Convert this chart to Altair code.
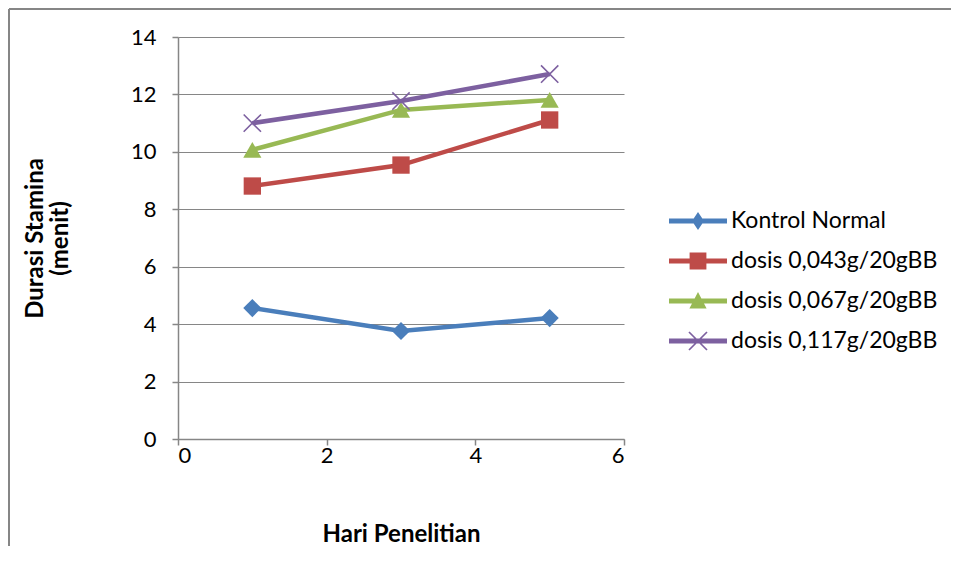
import altair as alt
import pandas as pd

# ---- data ----
series_names = ["Kontrol Normal", "dosis 0,043g/20gBB", "dosis 0,067g/20gBB", "dosis 0,117g/20gBB"]
hari = [1, 3, 5]
kontrol_normal = [4.56, 3.76, 4.21]
dosis_043 = [8.81, 9.54, 11.11]
dosis_067 = [10.07, 11.46, 11.81]
dosis_117 = [11.00, 11.77, 12.71]
x_ticks = [0, 2, 4, 6]
y_ticks = [0, 2, 4, 6, 8, 10, 12, 14]

colors = ["#4A7EBB", "#BE4B48", "#98B954", "#7D60A0"]

values = [kontrol_normal, dosis_043, dosis_067, dosis_117]
rows = []
for name, vals in zip(series_names, values):
    for h, v in zip(hari, vals):
        rows.append({"series": name, "hari": h, "durasi": v})
df = pd.DataFrame(rows)

FONT = "Lato"
GRAY = "#868686"
W, H = 446, 402

x_enc = alt.X("hari:Q", scale=alt.Scale(domain=[0, 6], nice=False, zero=False),
              axis=alt.Axis(values=x_ticks, title="Hari Penelitian", grid=False,
                            titleY=95, titleBaseline="middle"))
y_enc = alt.Y("durasi:Q", scale=alt.Scale(domain=[0, 14], nice=False),
              axis=alt.Axis(values=y_ticks, title=["Durasi Stamina", "(menit)"], grid=True,
                            titleX=-143, titleY=H / 2, titleAngle=-90,
                            titleAlign="center", titleBaseline="middle",
                            titleLineHeight=25))

# marker shapes for the plot
marker_shapes = ["diamond", "square", "triangle-up", "M-1,-1L1,1M-1,1L1,-1"]
marker_sizes = [330, 300, 330, 300]

# legend symbols: line segment + marker
line_part = "M-1.45,-0.12L1.45,-0.12L1.45,0.12L-1.45,0.12Z"
legend_shapes = [
    line_part + "M0,-0.45L0.3,0L0,0.45L-0.3,0Z",
    line_part + "M-0.42,-0.42L0.42,-0.42L0.42,0.42L-0.42,0.42Z",
    line_part + "M0,-0.45L0.43,0.38L-0.43,0.38Z",
    line_part + "M-0.42,-0.48L0.48,0.42L0.42,0.48L-0.48,-0.42Z"
              + "M-0.42,0.48L-0.48,0.42L0.42,-0.48L0.48,-0.42Z",
]

base = alt.Chart(df)
layers = []

# outer frame (decorative border of the original picture)
layers.append(alt.Chart(df).mark_rule(color=GRAY, strokeWidth=2).encode(
    x=alt.value(-169), x2=alt.value(800), y=alt.value(-28)))
layers.append(alt.Chart(df).mark_rule(color=GRAY, strokeWidth=2).encode(
    x=alt.value(-169), y=alt.value(-28), y2=alt.value(560)))

for i, name in enumerate(series_names):
    sub = base.transform_filter(alt.datum.series == name)
    layers.append(sub.mark_line(color=colors[i], strokeWidth=4.5).encode(x=x_enc, y=y_enc))
    if i < 3:
        layers.append(sub.mark_point(shape=marker_shapes[i], filled=True, size=marker_sizes[i],
                                     color=colors[i], opacity=1, strokeWidth=0)
                      .encode(x=x_enc, y=y_enc))
    else:
        layers.append(sub.mark_point(shape=marker_shapes[i], filled=False, size=marker_sizes[i],
                                     color=colors[i], opacity=1, strokeWidth=1.6)
                      .encode(x=x_enc, y=y_enc))

# legend-only layer (no visible marks)
legend_layer = base.transform_filter("datum.hari < 0").mark_point(
    filled=True, opacity=1, size=1600).encode(
    x=x_enc, y=y_enc,
    color=alt.Color("series:N", scale=alt.Scale(domain=series_names, range=colors),
                    legend=alt.Legend(title=None, orient="none", legendX=500, legendY=164,
                                      padding=0, symbolSize=1600, symbolStrokeWidth=0,
                                      symbolOpacity=1, labelOffset=13, rowPadding=8,
                                      labelFontSize=23, labelFont=FONT, labelColor="#000000",
                                      labelLimit=400)),
    shape=alt.Shape("series:N", scale=alt.Scale(domain=series_names, range=legend_shapes)),
)
layers.append(legend_layer)

chart = alt.layer(*layers).properties(
    width=W, height=H,
    autosize=alt.AutoSizeParams(type="none"),
    padding={"left": 170, "top": 29, "right": 327, "bottom": 107},
).configure_view(stroke=None).configure_axis(
    domainColor=GRAY, domainWidth=1.5, tickColor=GRAY, tickWidth=1.5, tickSize=6,
    gridColor=GRAY, gridWidth=1.2, gridOpacity=1,
    labelFont=FONT, labelFontSize=22, labelColor="#000000",
    titleFont=FONT, titleFontSize=24, titleFontWeight="bold", titleColor="#000000",
).configure_axisY(labelPadding=16).configure_axisX(labelPadding=10, labelBaseline="middle")

chart.save("out.html", embed_options={"renderer": "svg", "actions": False})
